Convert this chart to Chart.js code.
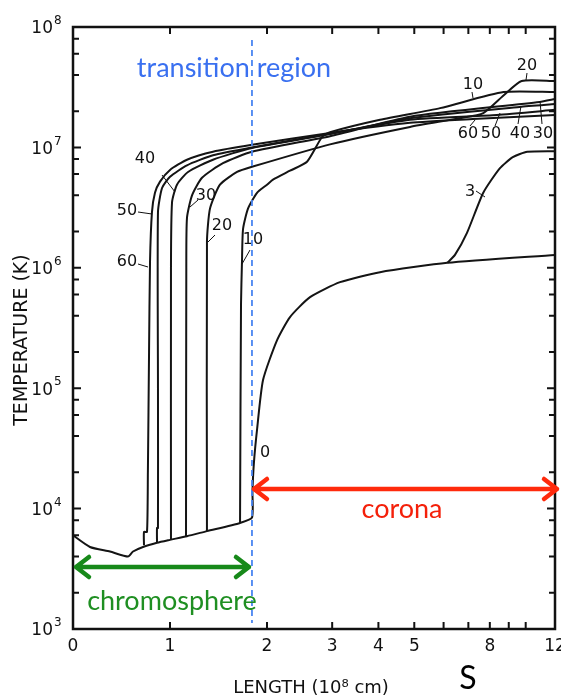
<!DOCTYPE html>
<html>
<head>
<meta charset="utf-8">
<script src="https://cdn.jsdelivr.net/npm/chart.js@4.4.1/dist/chart.umd.min.js"></script>
<style>
  html, body { margin: 0; padding: 0; background: #fff; overflow: hidden; }
  #wrap { position: relative; width: 561px; height: 699px; }
</style>
</head>
<body>
<div id="wrap"><canvas id="loopChart"></canvas></div>
<script>
// length along the loop in 1e8 cm, temperature in K
var chromoX = [0, 0.175, 0.381, 0.567, 0.619, 0.722, 0.866, 1.0, 1.175, 1.381, 1.722, 1.845];
var chromoT = [6000, 4800, 4400, 4000, 4400, 4800, 5200, 5500, 5900, 6500, 7600, 8400];

var t0X = [1.85, 1.865, 1.897, 1.959, 2.128, 2.308, 2.614, 3.15, 4.04, 6.14, 12];
var t0T = [14000, 24000, 45000, 117000, 250000, 390000, 570000, 760000, 920000, 1100000, 1280000];

var t3X = [6.14, 6.44, 6.94, 7.68, 8.51, 9.23, 10.1, 12];
var t3T = [1100000, 1280000, 1950000, 4200000, 6700000, 8300000, 9200000, 9300000];

var t10X = [1.722, 1.732, 1.742, 1.753, 1.804, 1.897, 2.0, 2.076, 2.308, 2.565, 2.816, 2.96, 4.04, 5.87, 8.71, 12];
var t10T = [7600, 5e5, 1.12e6, 2.1e6, 3.1e6, 4.2e6, 4.9e6, 5.4e6, 6.4e6, 7.6e6, 1.22e7, 1.34e7, 1.7e7, 2.12e7, 2.88e7, 2.88e7];

var t20X = [1.381, 1.381, 1.412, 1.515, 1.691, 1.845, 2.96, 4.87, 6.64, 7.68, 8.71, 9.75, 12];
var t20T = [6500, 1.64e6, 3.1e6, 4.9e6, 6.25e6, 6.9e6, 1.06e7, 1.48e7, 1.75e7, 1.93e7, 2.7e7, 3.56e7, 3.56e7];

var t30X = [1.165, 1.168, 1.175, 1.227, 1.33, 1.546, 1.845, 2.96, 4.87, 10.9, 12];
var t30T = [5900, 1e6, 2.6e6, 4.0e6, 5.6e6, 7.4e6, 9.2e6, 1.24e7, 1.8e7, 2.38e7, 2.52e7];

var t40X = [1.01, 1.01, 1.021, 1.072, 1.186, 1.443, 1.845, 2.96, 4.87, 9.63, 12];
var t40T = [5500, 1e6, 3.5e6, 4.9e6, 6.25e6, 7.9e6, 9.9e6, 1.29e7, 1.75e7, 2.17e7, 2.29e7];

var t50X = [0.866, 0.866, 0.876, 0.876, 0.876, 0.918, 1.0, 1.175, 1.443, 1.845, 2.96, 4.87, 8.36, 12];
var t50T = [5200, 6900, 6900, 1e5, 2.9e6, 4.6e6, 5.7e6, 7.1e6, 8.6e6, 1.0e7, 1.3e7, 1.7e7, 1.86e7, 2.05e7];

var t60X = [0.732, 0.732, 0.763, 0.772, 0.784, 0.794, 0.814, 0.845, 0.897, 1.0, 1.175, 1.443, 1.845, 2.96, 4.87, 7.19, 12];
var t60T = [4950, 6400, 6400, 2e4, 2e5, 1.12e6, 2.9e6, 4.2e6, 5.2e6, 6.5e6, 7.9e6, 9.2e6, 1.05e7, 1.32e7, 1.6e7, 1.72e7, 1.86e7];

var xTicks = [0, 1, 2, 3, 4, 5, 6, 7, 8, 9, 10, 12];
var xTickLabels = ["0", "1", "2", "3", "4", "5", "", "", "8", "", "", "12"];
var yDecades = [3, 4, 5, 6, 7, 8];
var yMinor = [2, 4, 6, 8];

var transitionX = 1.845;

// x axis of the original: linear up to 2, logarithmic beyond
var LIN_END = 2, LOG_GAIN = 1.657;
function warp(v) { return v <= LIN_END ? v : LIN_END + LOG_GAIN * Math.log(v / LIN_END); }
function unwarp(t) { return t <= LIN_END ? t : LIN_END * Math.exp((t - LIN_END) / LOG_GAIN); }

class StretchScale extends Chart.LinearScale {
    getPixelForValue(value) {
        var a = warp(this.min), b = warp(this.max);
        return this.getPixelForDecimal((warp(value) - a) / (b - a));
    }
    getValueForPixel(pixel) {
        var a = warp(this.min), b = warp(this.max);
        return unwarp(a + this.getDecimalForPixel(pixel) * (b - a));
    }
}
StretchScale.id = "stretch";
StretchScale.defaults = {};
Chart.register(StretchScale);

function pts(xs, ts) {
    return xs.map(function (x, i) { return { x: x, y: ts[i] }; });
}

var curves = [
    pts(chromoX.concat(t0X), chromoT.concat(t0T)),
    pts(t3X, t3T),
    pts(t10X, t10T),
    pts(t20X, t20T),
    pts(t30X, t30T),
    pts(t40X, t40T),
    pts(t50X, t50T),
    pts(t60X, t60T)
];
var curveNames = ["0", "3", "10", "20", "30", "40", "50", "60"];

// text labels next to the curves: [text, cx, cy, leader x1, y1, x2, y2]
var curveLabels = [
    ["60", 127, 262, 138, 264, 148, 267],
    ["50", 127, 211, 138, 212, 152, 214],
    ["40", 145, 159, 162, 175, 175, 192],
    ["30", 206, 196, 198, 200, 190, 207],
    ["20", 222, 226, 215, 235, 208, 242],
    ["10", 253, 240, 250, 250, 242, 264],
    ["0", 265, 453],
    ["3", 470, 192, 476, 191, 485, 197],
    ["10", 473, 85, 472, 92, 473, 98],
    ["20", 527, 66, 527, 73, 526, 80],
    ["60", 468, 134, 470, 126, 475, 120],
    ["50", 491, 134, 495, 126, 500, 113],
    ["40", 520, 134, 518, 124, 521, 106],
    ["30", 543, 134, 542, 124, 540, 101]
];

function doubleArrow(ctx, x1, x2, y, color) {
    ctx.save();
    ctx.strokeStyle = color;
    ctx.lineWidth = 4.5;
    ctx.lineCap = "round";
    ctx.lineJoin = "round";
    ctx.beginPath();
    ctx.moveTo(x1, y); ctx.lineTo(x2, y);
    ctx.moveTo(x1 + 13, y - 10); ctx.lineTo(x1, y); ctx.lineTo(x1 + 13, y + 10);
    ctx.moveTo(x2 - 13, y - 10); ctx.lineTo(x2, y); ctx.lineTo(x2 - 13, y + 10);
    ctx.stroke();
    ctx.restore();
}

var decorPlugin = {
    id: "decor",
    afterDraw: function (chart) {
        var ctx = chart.ctx, a = chart.chartArea;
        var xs = chart.scales.x, ys = chart.scales.y;
        ctx.save();
        ctx.strokeStyle = "#111";
        ctx.fillStyle = "#111";

        // frame
        ctx.lineWidth = 2.5;
        ctx.strokeRect(a.left, a.top, a.right - a.left, a.bottom - a.top);

        // ticks pointing inward on all four sides
        ctx.lineWidth = 2;
        ctx.beginPath();
        xTicks.forEach(function (v) {
            var px = xs.getPixelForValue(v);
            ctx.moveTo(px, a.bottom); ctx.lineTo(px, a.bottom - 7);
            ctx.moveTo(px, a.top); ctx.lineTo(px, a.top + 7);
        });
        yDecades.forEach(function (n, i) {
            var py = ys.getPixelForValue(Math.pow(10, n));
            ctx.moveTo(a.left, py); ctx.lineTo(a.left + 8, py);
            ctx.moveTo(a.right, py); ctx.lineTo(a.right - 8, py);
            if (i < yDecades.length - 1) {
                yMinor.forEach(function (m) {
                    var pm = ys.getPixelForValue(m * Math.pow(10, n));
                    ctx.moveTo(a.left, pm); ctx.lineTo(a.left + 6, pm);
                    ctx.moveTo(a.right, pm); ctx.lineTo(a.right - 6, pm);
                });
            }
        });
        ctx.stroke();

        // tick labels
        ctx.textBaseline = "middle";
        ctx.textAlign = "center";
        ctx.font = "17px 'DejaVu Sans'";
        xTicks.forEach(function (v, i) {
            if (xTickLabels[i]) ctx.fillText(xTickLabels[i], xs.getPixelForValue(v), a.bottom + 18);
        });
        yDecades.forEach(function (n) {
            var py = ys.getPixelForValue(Math.pow(10, n));
            ctx.font = "17px 'DejaVu Sans'";
            ctx.textAlign = "right";
            ctx.fillText("10", 53, py + 2);
            ctx.font = "12px 'DejaVu Sans'";
            ctx.textAlign = "left";
            ctx.fillText(String(n), 54, py - 6);
        });

        // axis titles
        ctx.font = "18px 'DejaVu Sans'";
        ctx.textAlign = "center";
        ctx.fillText("LENGTH (10\u2078 cm)", 311, 688);
        ctx.save();
        ctx.translate(22, 340);
        ctx.rotate(-Math.PI / 2);
        ctx.font = "19px 'DejaVu Sans'";
        ctx.fillText("TEMPERATURE (K)", 0, 0);
        ctx.restore();

        // curve labels and leaders
        ctx.font = "16px 'DejaVu Sans'";
        ctx.lineWidth = 1;
        curveLabels.forEach(function (l) {
            ctx.fillText(l[0], l[1], l[2]);
            if (l.length > 3) {
                ctx.beginPath();
                ctx.moveTo(l[3], l[4]); ctx.lineTo(l[5], l[6]);
                ctx.stroke();
            }
        });

        // transition region marker
        var tx = xs.getPixelForValue(transitionX);
        ctx.save();
        ctx.strokeStyle = "#4a86f2";
        ctx.lineWidth = 1.8;
        ctx.setLineDash([6, 4]);
        ctx.beginPath();
        ctx.moveTo(tx, 40); ctx.lineTo(tx, 623);
        ctx.stroke();
        ctx.restore();

        doubleArrow(ctx, tx + 2, a.right + 2, 489, "#ff2a0c");
        doubleArrow(ctx, a.left + 3, tx - 3, 567, "#17891a");

        ctx.font = "27px Lato";
        ctx.fillStyle = "#3a70f0";
        ctx.fillText("transition region", 234, 68);
        ctx.fillStyle = "#f4200a";
        ctx.fillText("corona", 402, 509);
        ctx.fillStyle = "#1f8f22";
        ctx.fillText("chromosphere", 172, 601);
        ctx.fillStyle = "#000";
        ctx.font = "32px Lato";
        ctx.fillText("S", 468, 679);
        ctx.restore();
    }
};

new Chart(document.getElementById("loopChart").getContext("2d"), {
    type: "line",
    data: {
        datasets: curves.map(function (c, i) {
            return {
                label: curveNames[i],
                data: c,
                borderColor: "#141414",
                borderWidth: 2,
                pointRadius: 0,
                tension: 0.2,
                fill: false
            };
        })
    },
    options: {
        responsive: true,
        maintainAspectRatio: false,
        animation: false,
        layout: { padding: { left: 73, right: 6, top: 27, bottom: 70 } },
        plugins: {
            legend: { display: false },
            tooltip: { enabled: false }
        },
        scales: {
            x: { type: "stretch", min: 0, max: 12, display: false },
            y: { type: "logarithmic", min: 1000, max: 1e8, display: false }
        }
    },
    plugins: [decorPlugin]
});
</script>
</body>
</html>
